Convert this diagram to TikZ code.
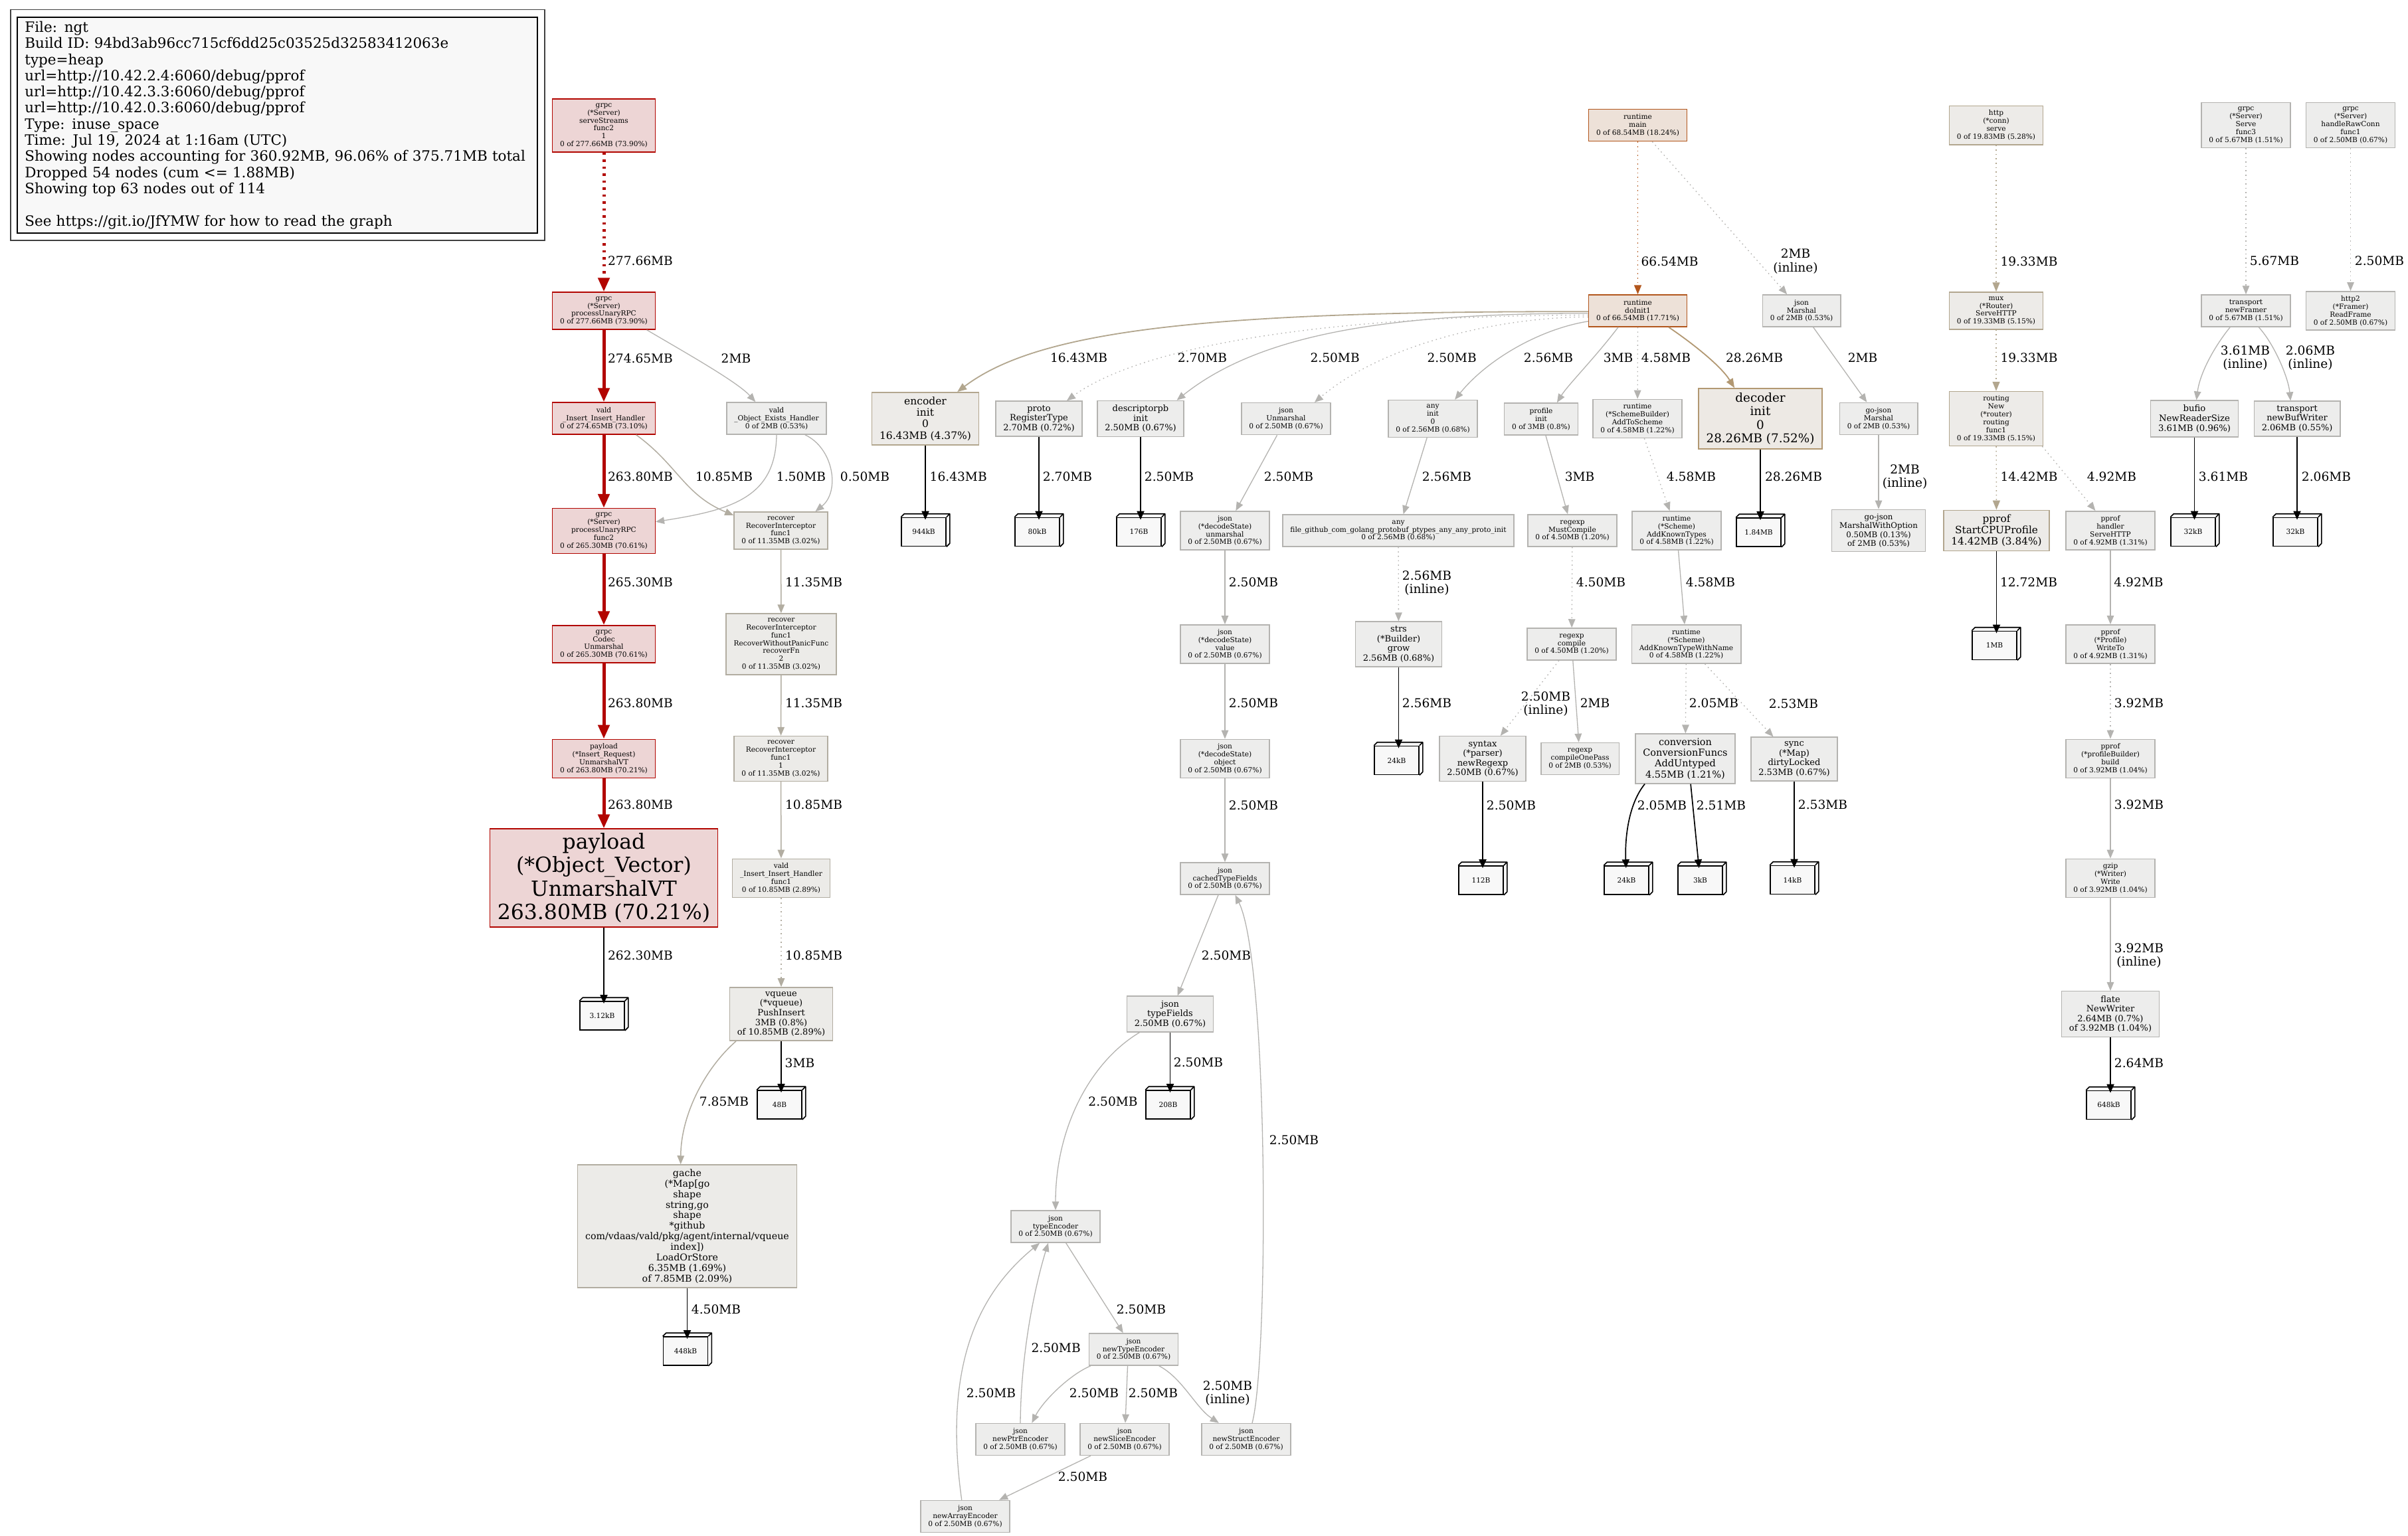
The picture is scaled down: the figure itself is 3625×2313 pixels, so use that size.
\documentclass[tikz,border=0pt]{standalone}
\usepackage{fontspec}
\setmainfont{DejaVu Serif}
\usetikzlibrary{arrows.meta}

\definecolor{hotfill}{HTML}{EDD5D5}
\definecolor{hotline}{HTML}{B20500}
\definecolor{warmfill}{HTML}{EDE1D8}
\definecolor{warmline}{HTML}{B2561C}
\definecolor{decfill}{HTML}{EDE9E4}
\definecolor{decline}{HTML}{B29872}
\definecolor{tanfill}{HTML}{EDEBE8}
\definecolor{tanline}{HTML}{B2A68E}
\definecolor{palefill}{HTML}{ECEBE8}
\definecolor{paleline}{HTML}{B2ADA1}
\definecolor{coldfill}{HTML}{EDEDEC}
\definecolor{coldline}{HTML}{B4B3B0}
\definecolor{boxfill}{HTML}{F8F8F8}

\tikzstyle{nd}=[draw, rectangle, line width=1.5pt, inner xsep=11.5pt, inner ysep=6.5pt, minimum width=72pt, minimum height=48pt, align=center, font=\fontsize{10.6}{11.9}\selectfont]
\tikzstyle{hotnd}=[nd, fill=hotfill, draw=hotline]
\tikzstyle{warmnd}=[nd, fill=warmfill, draw=warmline]
\tikzstyle{decnd}=[nd, fill=decfill, draw=decline]
\tikzstyle{tannd}=[nd, fill=tanfill, draw=tanline]
\tikzstyle{palend}=[nd, fill=palefill, draw=paleline]
\tikzstyle{coldnd}=[nd, fill=coldfill, draw=coldline]
\tikzstyle{leaf}=[draw=black, fill=boxfill, line width=1.6pt, minimum width=67pt, minimum height=43pt, inner sep=2pt, xshift=-2.5pt, yshift=-2.5pt, font=\fontsize{10.6}{11.9}\selectfont,
  append after command={\pgfextra{\let\lf\tikzlastnode
    \fill[boxfill] (\lf.north west) -- ++(5pt,5pt) -- ([shift={(5pt,5pt)}]\lf.north east) -- ([shift={(5pt,5pt)}]\lf.south east) -- (\lf.south east) -- (\lf.north east) -- cycle;
    \draw[line width=1.6pt, line join=round] (\lf.north west) -- ++(5pt,5pt) -- ([shift={(5pt,5pt)}]\lf.north east) -- ([shift={(5pt,5pt)}]\lf.south east) -- (\lf.south east) (\lf.north east) -- ++(5pt,5pt);}}]
\tikzstyle{lab}=[inner sep=0pt, align=center, font=\fontsize{18.6}{20.8}\selectfont]
\tikzstyle{legendbox}=[draw=black, fill=boxfill, line width=1.5pt, text width=760pt, inner xsep=11.6pt, minimum height=325pt, align=left, font=\fontsize{21.5}{24.3}\selectfont]

\tikzstyle{redarr}=[draw=hotline, line width=5pt, -{Triangle[length=21pt,width=17pt]}]
\tikzstyle{warmarr}=[draw=warmline, line width=1.6pt, -{Triangle[length=14pt,width=11pt]}]
\tikzstyle{decarr}=[draw=decline, line width=1.8pt, -{Triangle[length=14pt,width=11pt]}]
\tikzstyle{encarr}=[draw=tanline, line width=1.8pt, -{Triangle[length=14pt,width=11pt]}]
\tikzstyle{tanarr}=[draw=tanline, line width=1.4pt, -{Triangle[length=14pt,width=11pt]}]
\tikzstyle{palearr}=[draw=paleline, line width=1.5pt, -{Triangle[length=13pt,width=10.5pt]}]
\tikzstyle{coldarr}=[draw=coldline, line width=1.3pt, -{Triangle[length=13pt,width=10.5pt]}]
\tikzstyle{blkarr}=[draw=black, line width=1.7pt, -{Triangle[length=13pt,width=11pt]}]
\tikzstyle{toleaf}=[blkarr, shorten >=-4pt]
\tikzstyle{dotline}=[dash pattern=on 1.6pt off 5pt]
\tikzstyle{reddot}=[dash pattern=on 3.5pt off 7pt]

\tikzset{fs/.style={font=\fontsize{#1}{\fpeval{1.12*#1}}\selectfont}}

\begin{document}
\begin{tikzpicture}[x=1pt,y=-1pt]
	\fill[white] (0,0) rectangle (3625,2313);
	\useasboundingbox (0,0) rectangle (3625,2313);

	% legend
	\node[legendbox] (legend) at (417.4,188.5) {File: ngt\\Build ID: 94bd3ab96cc715cf6dd25c03525d32583412063e\\type=heap\\url=http://10.42.2.4:6060/debug/pprof\\url=http://10.42.3.3:6060/debug/pprof\\url=http://10.42.0.3:6060/debug/pprof\\Type: inuse\_space\\Time: Jul 19, 2024 at 1:16am (UTC)\\Showing nodes accounting for 360.92MB, 96.06\% of 375.71MB total\\Dropped 54 nodes (cum <= 1.88MB)\\Showing top 63 nodes out of 114\\[24.3pt]See https://git.io/JfYMW for how to read the graph};
	\draw[line width=1.5pt, black!75] ([shift={(-9pt,11pt)}]legend.north west) rectangle ([shift={(10pt,-10pt)}]legend.south east);

	% grpc unary path
	\node[hotnd] (ss) at (909,189) {grpc\\(*Server)\\serveStreams\\func2\\1\\0 of 277.66MB (73.90\%)};
	\node[hotnd] (pur) at (909,468) {grpc\\(*Server)\\processUnaryRPC\\0 of 277.66MB (73.90\%)};
	\node[hotnd] (ih) at (909,630) {vald\\\_Insert\_Insert\_Handler\\0 of 274.65MB (73.10\%)};
	\node[coldnd] (oeh) at (1169,630) {vald\\\_Object\_Exists\_Handler\\0 of 2MB (0.53\%)};
	\node[hotnd] (f2) at (909,799.5) {grpc\\(*Server)\\processUnaryRPC\\func2\\0 of 265.30MB (70.61\%)};
	\node[palend] (rec1) at (1175.5,799) {recover\\RecoverInterceptor\\func1\\0 of 11.35MB (3.02\%)};
	\node[hotnd] (codec) at (909,970) {grpc\\Codec\\Unmarshal\\0 of 265.30MB (70.61\%)};
	\node[palend] (rec2) at (1176,970) {recover\\RecoverInterceptor\\func1\\RecoverWithoutPanicFunc\\recoverFn\\2\\0 of 11.35MB (3.02\%)};
	\node[hotnd] (ireq) at (909,1142.5) {payload\\(*Insert\_Request)\\UnmarshalVT\\0 of 263.80MB (70.21\%)};
	\node[palend] (rec3) at (1175.5,1142.5) {recover\\RecoverInterceptor\\func1\\1\\0 of 11.35MB (3.02\%)};
	\node[hotnd, fs=31.5] (vec) at (909,1322) {payload\\(*Object\_Vector)\\UnmarshalVT\\263.80MB (70.21\%)};
	\node[palend] (ihf) at (1176,1322.5) {vald\\\_Insert\_Insert\_Handler\\func1\\0 of 10.85MB (2.89\%)};
	\node[palend, fs=13] (vq) at (1176,1527) {vqueue\\(*vqueue)\\PushInsert\\3MB (0.8\%)\\of 10.85MB (2.89\%)};
	\node[palend, fs=14.2] (gache) at (1034.5,1846.5) {gache\\(*Map[go\\shape\\string,go\\shape\\*github\\com/vdaas/vald/pkg/agent/internal/vqueue\\index])\\LoadOrStore\\6.35MB (1.69\%)\\of 7.85MB (2.09\%)};

	% runtime init
	\node[warmnd] (main) at (2465.5,188.7) {runtime\\main\\0 of 68.54MB (18.24\%)};
	\node[warmnd] (doinit) at (2465.5,468) {runtime\\doInit1\\0 of 66.54MB (17.71\%)};
	\node[coldnd] (jsonM) at (2712,468) {json\\Marshal\\0 of 2MB (0.53\%)};
	\node[tannd, fs=15.5] (enc) at (1393,630.5) {encoder\\init\\0\\16.43MB (4.37\%)};
	\node[coldnd, fs=13] (proto) at (1564,630.5) {proto\\RegisterType\\2.70MB (0.72\%)};
	\node[coldnd, fs=13] (desc) at (1717,630.5) {descriptorpb\\init\\2.50MB (0.67\%)};
	\node[coldnd] (jsonU) at (1936,630.7) {json\\Unmarshal\\0 of 2.50MB (0.67\%)};
	\node[coldnd] (anyinit) at (2157,630.5) {any\\init\\0\\0 of 2.56MB (0.68\%)};
	\node[coldnd] (prof) at (2320,631) {profile\\init\\0 of 3MB (0.8\%)};
	\node[coldnd] (sb) at (2465,630.5) {runtime\\(*SchemeBuilder)\\AddToScheme\\0 of 4.58MB (1.22\%)};
	\node[decnd, fs=18.3] (dec) at (2650,630.5) {decoder\\init\\0\\28.26MB (7.52\%)};
	\node[coldnd] (gojM) at (2828,630.5) {go-json\\Marshal\\0 of 2MB (0.53\%)};
	\node[coldnd] (dsu) at (1844,799) {json\\(*decodeState)\\unmarshal\\0 of 2.50MB (0.67\%)};
	\node[coldnd] (anyfile) at (2105,799) {any\\file\_github\_com\_golang\_protobuf\_ptypes\_any\_any\_proto\_init\\0 of 2.56MB (0.68\%)};
	\node[coldnd] (must) at (2367,799) {regexp\\MustCompile\\0 of 4.50MB (1.20\%)};
	\node[coldnd] (akt) at (2524,799) {runtime\\(*Scheme)\\AddKnownTypes\\0 of 4.58MB (1.22\%)};
	\node[coldnd, fs=11.8] (mwo) at (2828,799) {go-json\\MarshalWithOption\\0.50MB (0.13\%)\\of 2MB (0.53\%)};
	\node[coldnd] (dsv) at (1844,970) {json\\(*decodeState)\\value\\0 of 2.50MB (0.67\%)};
	\node[coldnd, fs=13] (strs) at (2105.5,970) {strs\\(*Builder)\\grow\\2.56MB (0.68\%)};
	\node[coldnd] (comp) at (2366,970) {regexp\\compile\\0 of 4.50MB (1.20\%)};
	\node[coldnd] (aktwn) at (2538.5,970) {runtime\\(*Scheme)\\AddKnownTypeWithName\\0 of 4.58MB (1.22\%)};
	\node[coldnd] (dso) at (1844,1142.5) {json\\(*decodeState)\\object\\0 of 2.50MB (0.67\%)};
	\node[coldnd, fs=13] (syn) at (2232,1142.5) {syntax\\(*parser)\\newRegexp\\2.50MB (0.67\%)};
	\node[coldnd] (onep) at (2378.5,1142.5) {regexp\\compileOnePass\\0 of 2MB (0.53\%)};
	\node[coldnd, fs=14.5] (conv) at (2537,1142.5) {conversion\\ConversionFuncs\\AddUntyped\\4.55MB (1.21\%)};
	\node[coldnd, fs=13] (sync) at (2701,1143) {sync\\(*Map)\\dirtyLocked\\2.53MB (0.67\%)};
	\node[coldnd] (ctf) at (1844,1323) {json\\cachedTypeFields\\0 of 2.50MB (0.67\%)};
	\node[coldnd, fs=13] (tf) at (1761.5,1527) {json\\typeFields\\2.50MB (0.67\%)};
	\node[coldnd] (te) at (1589,1847) {json\\typeEncoder\\0 of 2.50MB (0.67\%)};
	\node[coldnd] (nte) at (1706.5,2032) {json\\newTypeEncoder\\0 of 2.50MB (0.67\%)};
	\node[coldnd] (ptr) at (1536,2167.5) {json\\newPtrEncoder\\0 of 2.50MB (0.67\%)};
	\node[coldnd] (slice) at (1693,2167.5) {json\\newSliceEncoder\\0 of 2.50MB (0.67\%)};
	\node[coldnd] (strc) at (1876,2167.5) {json\\newStructEncoder\\0 of 2.50MB (0.67\%)};
	\node[coldnd] (arr) at (1453,2283.5) {json\\newArrayEncoder\\0 of 2.50MB (0.67\%)};

	% http and grpc servers
	\node[tannd] (http) at (3005,188.6) {http\\(*conn)\\serve\\0 of 19.83MB (5.28\%)};
	\node[tannd] (mux) at (3005,468) {mux\\(*Router)\\ServeHTTP\\0 of 19.33MB (5.15\%)};
	\node[tannd] (rout) at (3005,630.5) {routing\\New\\(*router)\\routing\\func1\\0 of 19.33MB (5.15\%)};
	\node[tannd, fs=15.3] (cpu) at (3005.5,799) {pprof\\StartCPUProfile\\14.42MB (3.84\%)};
	\node[coldnd] (hand) at (3177,799) {pprof\\handler\\ServeHTTP\\0 of 4.92MB (1.31\%)};
	\node[coldnd] (wto) at (3177,970) {pprof\\(*Profile)\\WriteTo\\0 of 4.92MB (1.31\%)};
	\node[coldnd] (bld) at (3177,1142.5) {pprof\\(*profileBuilder)\\build\\0 of 3.92MB (1.04\%)};
	\node[coldnd] (gz) at (3177,1322.5) {gzip\\(*Writer)\\Write\\0 of 3.92MB (1.04\%)};
	\node[coldnd, fs=13] (fl) at (3177,1527) {flate\\NewWriter\\2.64MB (0.7\%)\\of 3.92MB (1.04\%)};
	\node[coldnd] (srv3) at (3381,188.6) {grpc\\(*Server)\\Serve\\func3\\0 of 5.67MB (1.51\%)};
	\node[coldnd] (raw) at (3538.5,188.6) {grpc\\(*Server)\\handleRawConn\\func1\\0 of 2.50MB (0.67\%)};
	\node[coldnd] (frm) at (3381,468) {transport\\newFramer\\0 of 5.67MB (1.51\%)};
	\node[coldnd] (rf) at (3538.5,468) {http2\\(*Framer)\\ReadFrame\\0 of 2.50MB (0.67\%)};
	\node[coldnd, fs=13.2] (bufio) at (3303.5,630.5) {bufio\\NewReaderSize\\3.61MB (0.96\%)};
	\node[coldnd, fs=12.9] (nbw) at (3458,630.5) {transport\\newBufWriter\\2.06MB (0.55\%)};

	% allocation boxes
	\foreach \n/\x/\y/\t in {k312/909/1527/3.12kB, b48/1176/1661/48B, k448/1034.5/2032/448kB,
		k944/1393/798.5/944kB, k80/1564/798.5/80kB, b176/1717/798.5/176B, m184/2650/799/1.84MB,
		k24a/2105/1142.5/24kB, b112/2232/1323/112B, k24b/2451/1323/24kB, k3/2562/1323/3kB,
		k14/2701/1322.5/14kB, b208/1761/1661/208B, m1/3005/969.5/1MB, k648/3177/1661.5/648kB,
		k32a/3304/798.5/32kB, k32b/3458/798.5/32kB}{
		\node[leaf] (\n) at (\x,\y) {\t};
	}

	% edges
	\draw[redarr, reddot] (ss) -- (pur);
	\draw[redarr] (pur) -- (ih);
	\draw[redarr] (ih) -- (f2);
	\draw[redarr] (f2) -- (codec);
	\draw[redarr] (codec) -- (ireq);
	\draw[redarr] (ireq) -- (vec);
	\draw[toleaf] (vec) -- (vec |- k312.north);
	\draw[coldarr] (pur.-24) .. controls (1030,530) and (1110,575) .. (oeh.142);
	\draw[palearr] (ih.-27) .. controls (1020,700) and (1030,745) .. (rec1.162);
	\draw[coldarr] (oeh.south) .. controls (1168,750) and (1100,768) .. (f2.10);
	\draw[coldarr] (oeh.-30) .. controls (1255,675) and (1265,740) .. (rec1.29);
	\draw[palearr] (rec1) -- (rec2);
	\draw[palearr] (rec2) -- (rec3);
	\draw[palearr] (rec3) -- (ihf);
	\draw[palearr, dotline] (ihf) -- (vq);
	\draw[toleaf] (vq) -- (vq |- b48.north);
	\draw[palearr] (vq.211) .. controls (1060,1610) and (1025,1680) .. (gache.96);
	\draw[toleaf] (gache) -- (gache |- k448.north);

	\draw[warmarr, dotline] (main) -- (doinit);
	\draw[coldarr, dotline] (main) -- (jsonM);
	\draw[coldarr] (jsonM) -- (gojM);
	\draw[coldarr] (gojM) -- (mwo);
	\draw[encarr] (doinit.181) .. controls (1800,468) and (1560,500) .. (enc.40);
	\draw[coldarr] (doinit.183) .. controls (2100,472) and (1900,500) .. (desc.27);
	\draw[coldarr, dotline] (doinit.185) .. controls (2000,475) and (1720,520) .. (proto.33);
	\draw[coldarr, dotline] (doinit.187) .. controls (2250,478) and (2080,520) .. (jsonU.30);
	\draw[coldarr] (doinit.192) .. controls (2320,495) and (2240,540) .. (anyinit.41);
	\draw[coldarr] (doinit.220) .. controls (2400,540) and (2360,580) .. (prof.46);
	\draw[coldarr, dotline] (doinit) -- (sb);
	\draw[decarr] (doinit.-28) .. controls (2545,515) and (2590,550) .. (dec.130);
	\draw[toleaf] (enc) -- (enc |- k944.north);
	\draw[toleaf] (proto) -- (proto |- k80.north);
	\draw[toleaf] (desc) -- (desc |- b176.north);
	\draw[toleaf] (dec) -- (dec |- m184.north);
	\draw[coldarr] (jsonU) -- (dsu);
	\draw[coldarr] (anyinit) -- (anyfile);
	\draw[coldarr] (prof) -- (must);
	\draw[coldarr, dotline] (sb) -- (akt);
	\draw[coldarr] (dsu) -- (dsv);
	\draw[coldarr, dotline] (anyfile) -- (strs);
	\draw[coldarr, dotline] (must) -- (comp);
	\draw[coldarr] (akt) -- (aktwn);
	\draw[coldarr] (dsv) -- (dso);
	\draw[toleaf] (strs) -- (strs |- k24a.north);
	\draw[coldarr, dotline] (comp) -- (syn);
	\draw[coldarr] (comp) -- (onep);
	\draw[coldarr, dotline] (aktwn) -- (conv);
	\draw[coldarr, dotline] (aktwn) -- (sync);
	\draw[coldarr] (dso) -- (ctf);
	\draw[toleaf] (syn) -- (syn |- b112.north);
	\draw[toleaf] (conv.212) .. controls (2452,1210) and (2446,1260) .. (k24b);
	\draw[toleaf] (conv.282) -- (k3);
	\draw[toleaf] (sync) -- (sync |- k14.north);
	\draw[coldarr] (ctf) -- (tf);
	\draw[toleaf] (tf) -- (tf |- b208.north);
	\draw[coldarr] (tf.211) .. controls (1640,1600) and (1589,1700) .. (te.north);
	\draw[coldarr] (te) -- (nte);
	\draw[coldarr] (nte.201) .. controls (1610,2070) and (1570,2110) .. (ptr.55);
	\draw[coldarr] (nte.250) -- (slice);
	\draw[coldarr] (nte.327) .. controls (1780,2075) and (1800,2120) .. (strc.149);
	\draw[coldarr] (strc.70) .. controls (1910,2050) and (1910,1450) .. (ctf.302);
	\draw[coldarr] (ptr.north) .. controls (1537,2030) and (1560,1930) .. (te.246);
	\draw[coldarr] (slice) -- (arr);
	\draw[coldarr] (arr.102) .. controls (1420,2060) and (1470,1950) .. (te.226);

	\draw[tanarr, dotline] (http) -- (mux);
	\draw[tanarr, dotline] (mux) -- (rout);
	\draw[tanarr, dotline] (rout) -- (cpu);
	\draw[coldarr, dotline] (rout.-31) -- (hand.127);
	\draw[toleaf] (cpu) -- (cpu |- m1.north);
	\draw[coldarr] (hand) -- (wto);
	\draw[coldarr, dotline] (wto) -- (bld);
	\draw[coldarr] (bld) -- (gz);
	\draw[coldarr] (gz) -- (fl);
	\draw[toleaf] (fl) -- (fl |- k648.north);
	\draw[coldarr, dotline] (srv3) -- (frm);
	\draw[coldarr, dotline] (raw) -- (rf);
	\draw[coldarr] (frm.226) .. controls (3335,520) and (3312,560) .. (bufio.84);
	\draw[coldarr] (frm.308) .. controls (3425,520) and (3445,570) .. (nbw.110);
	\draw[toleaf] (bufio) -- (bufio |- k32a.north);
	\draw[toleaf] (nbw) -- (nbw |- k32b.north);

	% edge labels
	\foreach \x/\y/\t [count=\i] in {964/393/277.66MB, 964/540/274.65MB, 1108/540/2MB, 964/718/263.80MB,
		1090/718/10.85MB, 1206/718/1.50MB, 1302/718/0.50MB, 964/877/265.30MB, 1225/877/11.35MB,
		964/1059/263.80MB, 1225/1059/11.35MB, 964/1212/263.80MB, 1225/1212/10.85MB, 964/1439/262.30MB,
		1225/1439/10.85MB, 1204/1601/3MB, 1090/1659/7.85MB, 1078/1972/4.50MB,
		2513.6/393.5/66.54MB, 2703/393.5/{2MB\\(inline)}, 1624/539/16.43MB, 1810/539/2.70MB,
		2009.6/539/2.50MB, 2185.6/539/2.50MB, 2331/539/2.56MB, 2436/539/3MB, 2508/539/4.58MB,
		2641/539/28.26MB, 2804/539/2MB, 1442.7/718/16.43MB, 1607/718/2.70MB, 1760/718/2.50MB,
		1940/718/2.50MB, 2178/718/2.56MB, 2378/718/3MB, 2546/718/4.58MB, 2700/718/28.26MB,
		2867.6/718/{2MB\\(inline)}, 1887/877/2.50MB, 2148/878/{2.56MB\\(inline)}, 2410/877/4.50MB,
		2575/877/4.58MB, 1887/1059/2.50MB, 2148/1059/2.56MB, 2327/1060/{2.50MB\\(inline)},
		2401/1059/2MB, 2580/1059/2.05MB, 2700/1059.5/2.53MB, 1887/1212.5/2.50MB, 2275/1212.5/2.50MB,
		2502/1212.5/2.05MB, 2591/1212.5/2.51MB, 2744/1212/2.53MB, 1846/1439/2.50MB, 1804/1600/2.50MB,
		1675.5/1659/2.50MB, 1948/1717/2.50MB, 1718/1971.7/2.50MB, 1589.6/2029.5/2.50MB,
		1492/2098/2.50MB, 1647/2098/2.50MB, 1736/2098/2.50MB, 1848/2098/{2.50MB\\(inline)},
		1630/2224/2.50MB, 3054.5/393.5/19.33MB, 3054.5/538.6/19.33MB, 3054.5/718/14.42MB,
		3179/718/4.92MB, 3054/877/12.72MB, 3219.5/877/4.92MB, 3220/1058.7/3.92MB, 3220/1211.7/3.92MB,
		3220/1439/{3.92MB\\(inline)}, 3220/1600.5/2.64MB, 3424/393/5.67MB, 3582/393/2.50MB,
		3380/539/{3.61MB\\(inline)}, 3478/539/{2.06MB\\(inline)}, 3347/718/3.61MB, 3502/718/2.06MB}{
		\node[lab] (l\i) at (\x,\y) {\t};
	}
\end{tikzpicture}
\end{document}
